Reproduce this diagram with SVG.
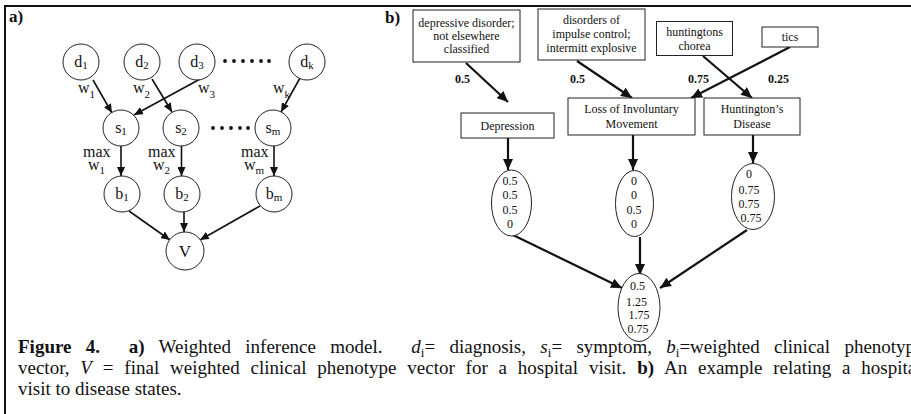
<svg xmlns="http://www.w3.org/2000/svg" width="911" height="414" viewBox="0 0 911 414" font-family="'Liberation Serif','Times New Roman',serif">
<style>
.t{font-family:"Liberation Serif","Times New Roman",serif;fill:#111}
.nd{fill:#fff;stroke:#222;stroke-width:1}
.ca{stroke:#111;stroke-width:1.6;fill:none}
.cb{stroke:#111;stroke-width:2.2;fill:none}
.na{font-size:16px}
.bx{font-size:12px}
.wt{font-size:12px;font-weight:bold}
.cap{font-size:19px}
</style>
<defs>
<marker id="ha" markerUnits="userSpaceOnUse" markerWidth="9" markerHeight="8" refX="9" refY="4" orient="auto"><path d="M0,0L9,4L0,8z" fill="#111"/></marker>
<marker id="hb" markerUnits="userSpaceOnUse" markerWidth="11" markerHeight="10" refX="11" refY="5" orient="auto"><path d="M0,0L11,5L0,10z" fill="#111"/></marker>
</defs>
<rect width="911" height="414" fill="#fff"/>
<line x1="5" y1="6" x2="911" y2="6" stroke="#111" stroke-width="2.2"/>
<line x1="5" y1="5" x2="5" y2="414" stroke="#111" stroke-width="2"/>
<text class="t" x="9" y="22" font-size="17" font-weight="bold">a)</text>
<text class="t" x="385" y="22.5" font-size="17" font-weight="bold">b)</text>

<g id="connectors-a">
<line class="ca" x1="93" y1="80" x2="112" y2="113" marker-end="url(#ha)"/>
<line class="ca" x1="152" y1="79" x2="172" y2="112" marker-end="url(#ha)"/>
<line class="ca" x1="202" y1="78" x2="134" y2="115" marker-end="url(#ha)"/>
<line class="ca" x1="300" y1="78" x2="281" y2="112" marker-end="url(#ha)"/>
<line class="ca" x1="121" y1="146" x2="121" y2="176" marker-end="url(#ha)"/>
<line class="ca" x1="181.5" y1="146" x2="181.5" y2="176" marker-end="url(#ha)"/>
<line class="ca" x1="274" y1="146" x2="274" y2="176" marker-end="url(#ha)"/>
<line class="ca" x1="129" y1="211" x2="170" y2="240" marker-end="url(#ha)"/>
<line class="ca" x1="184" y1="212" x2="184" y2="232" marker-end="url(#ha)"/>
<line class="ca" x1="260" y1="206" x2="200" y2="240" marker-end="url(#ha)"/>
</g>
<g id="labels-a">
<text class="t na" x="78" y="93">w<tspan font-size="11" dy="5">1</tspan></text>
<text class="t na" x="133" y="93">w<tspan font-size="11" dy="5">2</tspan></text>
<text class="t na" x="198" y="93">w<tspan font-size="11" dy="5">3</tspan></text>
<text class="t na" x="273" y="93">w<tspan font-size="11" dy="5">k</tspan></text>
<text class="t na" x="83" y="157">max</text>
<text class="t na" x="88" y="170">w<tspan font-size="11" dy="4">1</tspan></text>
<text class="t na" x="148" y="157">max</text>
<text class="t na" x="153" y="170">w<tspan font-size="11" dy="4">2</tspan></text>
<text class="t na" x="241" y="157">max</text>
<text class="t na" x="244" y="170">w<tspan font-size="11" dy="4">m</tspan></text>
</g>
<g id="dots-a" fill="#111">
<circle cx="225" cy="61" r="1.9"/><circle cx="234" cy="61" r="1.9"/><circle cx="243" cy="61" r="1.9"/><circle cx="252" cy="61" r="1.9"/><circle cx="261" cy="61" r="1.9"/><circle cx="269" cy="61" r="1.9"/>
<circle cx="213" cy="128" r="1.9"/><circle cx="222" cy="128" r="1.9"/><circle cx="231" cy="128" r="1.9"/><circle cx="240" cy="128" r="1.9"/><circle cx="248" cy="128" r="1.9"/>
</g>
<g id="d1"><circle class="nd" cx="81" cy="62" r="18"/><text class="t na" x="81" y="67" text-anchor="middle">d<tspan font-size="11" dy="2">1</tspan></text></g>
<g id="d2"><circle class="nd" cx="142" cy="62" r="18"/><text class="t na" x="142" y="67" text-anchor="middle">d<tspan font-size="11" dy="2">2</tspan></text></g>
<g id="d3"><circle class="nd" cx="197" cy="62" r="18"/><text class="t na" x="197" y="67" text-anchor="middle">d<tspan font-size="11" dy="2">3</tspan></text></g>
<g id="dk"><circle class="nd" cx="307" cy="62" r="18"/><text class="t na" x="307" y="67" text-anchor="middle">d<tspan font-size="11" dy="2">k</tspan></text></g>
<g id="s1"><circle class="nd" cx="121" cy="128" r="18"/><text class="t na" x="121" y="133" text-anchor="middle">s<tspan font-size="11" dy="2">1</tspan></text></g>
<g id="s2"><circle class="nd" cx="181" cy="128" r="18"/><text class="t na" x="181" y="133" text-anchor="middle">s<tspan font-size="11" dy="2">2</tspan></text></g>
<g id="sm"><circle class="nd" cx="273" cy="128" r="18"/><text class="t na" x="273" y="133" text-anchor="middle">s<tspan font-size="11" dy="2">m</tspan></text></g>
<g id="b1"><circle class="nd" cx="122" cy="194" r="18"/><text class="t na" x="122" y="199" text-anchor="middle">b<tspan font-size="11" dy="2">1</tspan></text></g>
<g id="b2"><circle class="nd" cx="182" cy="194" r="18"/><text class="t na" x="182" y="199" text-anchor="middle">b<tspan font-size="11" dy="2">2</tspan></text></g>
<g id="bm"><circle class="nd" cx="274" cy="194" r="18"/><text class="t na" x="274" y="199" text-anchor="middle">b<tspan font-size="11" dy="2">m</tspan></text></g>
<g id="V"><circle class="nd" cx="185" cy="251" r="19"/><text class="t" x="185" y="257" text-anchor="middle" font-size="17">V</text></g>

<g id="connectors-b">
<line class="cb" x1="466" y1="63" x2="508" y2="102" marker-end="url(#hb)"/>
<line class="cb" x1="577" y1="61" x2="632" y2="98" marker-end="url(#hb)"/>
<line class="cb" x1="703" y1="56" x2="752" y2="98" marker-end="url(#hb)"/>
<line class="cb" x1="790" y1="47" x2="691" y2="98" marker-end="url(#hb)"/>
<line class="cb" x1="508" y1="138" x2="508" y2="170" marker-end="url(#hb)"/>
<line class="cb" x1="633" y1="135" x2="633" y2="170" marker-end="url(#hb)"/>
<line class="cb" x1="753" y1="135" x2="753" y2="163" marker-end="url(#hb)"/>
<line class="cb" x1="513" y1="235" x2="622" y2="288" marker-end="url(#hb)"/>
<line class="cb" x1="640" y1="237" x2="640" y2="275" marker-end="url(#hb)"/>
<line class="cb" x1="747" y1="230" x2="660" y2="288" marker-end="url(#hb)"/>
</g>
<g id="weights-b">
<text class="t wt" x="455" y="83">0.5</text>
<text class="t wt" x="570" y="83">0.5</text>
<text class="t wt" x="688" y="83">0.75</text>
<text class="t wt" x="768" y="83">0.25</text>
</g>
<g id="box-depressive"><rect class="nd" x="413" y="10" width="107" height="52"/>
<text class="t bx" text-anchor="middle"><tspan x="466.5" y="26.5">depressive disorder;</tspan><tspan x="466.5" y="39.5">not elsewhere</tspan><tspan x="466.5" y="53">classified</tspan></text></g>
<g id="box-impulse"><rect class="nd" x="538" y="9" width="107" height="51"/>
<text class="t bx" text-anchor="middle"><tspan x="591.5" y="24">disorders of</tspan><tspan x="591.5" y="37.5">impulse control;</tspan><tspan x="591.5" y="51.5">intermitt explosive</tspan></text></g>
<g id="box-huntingtons"><rect class="nd" x="656.5" y="21.5" width="76" height="34"/>
<text class="t bx" text-anchor="middle"><tspan x="694.5" y="36">huntingtons</tspan><tspan x="694.5" y="49.5">chorea</tspan></text></g>
<g id="box-tics"><rect class="nd" x="762" y="27" width="56" height="20"/>
<text class="t bx" x="790" y="41" text-anchor="middle">tics</text></g>
<g id="box-depression"><rect class="nd" x="461" y="113" width="93" height="25"/>
<text class="t bx" x="507.5" y="130" text-anchor="middle">Depression</text></g>
<g id="box-loss"><rect class="nd" x="568" y="98" width="127" height="37"/>
<text class="t bx" text-anchor="middle"><tspan x="631.5" y="113">Loss of Involuntary</tspan><tspan x="631.5" y="127.5">Movement</tspan></text></g>
<g id="box-huntington-disease"><rect class="nd" x="704" y="98" width="96" height="37"/>
<text class="t bx" text-anchor="middle"><tspan x="752" y="113">Huntington’s</tspan><tspan x="752" y="127.5">Disease</tspan></text></g>
<g id="vec-depression"><ellipse class="nd" cx="511.5" cy="203" rx="20" ry="33"/>
<text class="t bx" text-anchor="middle"><tspan x="510" y="185">0.5</tspan><tspan x="510" y="199">0.5</tspan><tspan x="510" y="213.5">0.5</tspan><tspan x="510" y="227.5">0</tspan></text></g>
<g id="vec-loss"><ellipse class="nd" cx="634.5" cy="203.5" rx="19" ry="33"/>
<text class="t bx" text-anchor="middle"><tspan x="634" y="185">0</tspan><tspan x="634" y="199">0</tspan><tspan x="634" y="213.5">0.5</tspan><tspan x="634" y="227.5">0</tspan></text></g>
<g id="vec-huntington"><ellipse class="nd" cx="753" cy="196.5" rx="21.5" ry="33"/>
<text class="t bx" text-anchor="middle"><tspan x="749" y="178">0</tspan><tspan x="749" y="194">0.75</tspan><tspan x="749" y="208">0.75</tspan><tspan x="751" y="222">0.75</tspan></text></g>
<g id="vec-final"><ellipse class="nd" cx="639" cy="307.5" rx="21" ry="34"/>
<text class="t bx" text-anchor="middle"><tspan x="637.5" y="290">0.5</tspan><tspan x="636.5" y="305.5">1.25</tspan><tspan x="639" y="319">1.75</tspan><tspan x="638" y="333">0.75</tspan></text></g>

<g id="caption">
<text class="t cap" x="18" y="353" xml:space="preserve" word-spacing="9.6"><tspan font-weight="bold">Figure 4.</tspan>  <tspan font-weight="bold">a)</tspan> Weighted inference model.  <tspan font-style="italic">d</tspan><tspan font-size="13" dy="4">i</tspan><tspan dy="-4">= diagnosis, </tspan><tspan font-style="italic">s</tspan><tspan font-size="13" dy="4">i</tspan><tspan dy="-4">= symptom, </tspan><tspan font-style="italic">b</tspan><tspan font-size="13" dy="4">i</tspan><tspan dy="-4">=weighted clinical phenotype</tspan></text>
<text class="t cap" x="18" y="374" word-spacing="6.1">vector, <tspan font-style="italic">V</tspan> = final weighted clinical phenotype vector for a hospital visit. <tspan font-weight="bold">b)</tspan> An example relating a hospital</text>
<text class="t cap" x="18" y="394.5">visit to disease states.</text>
</g>
</svg>
